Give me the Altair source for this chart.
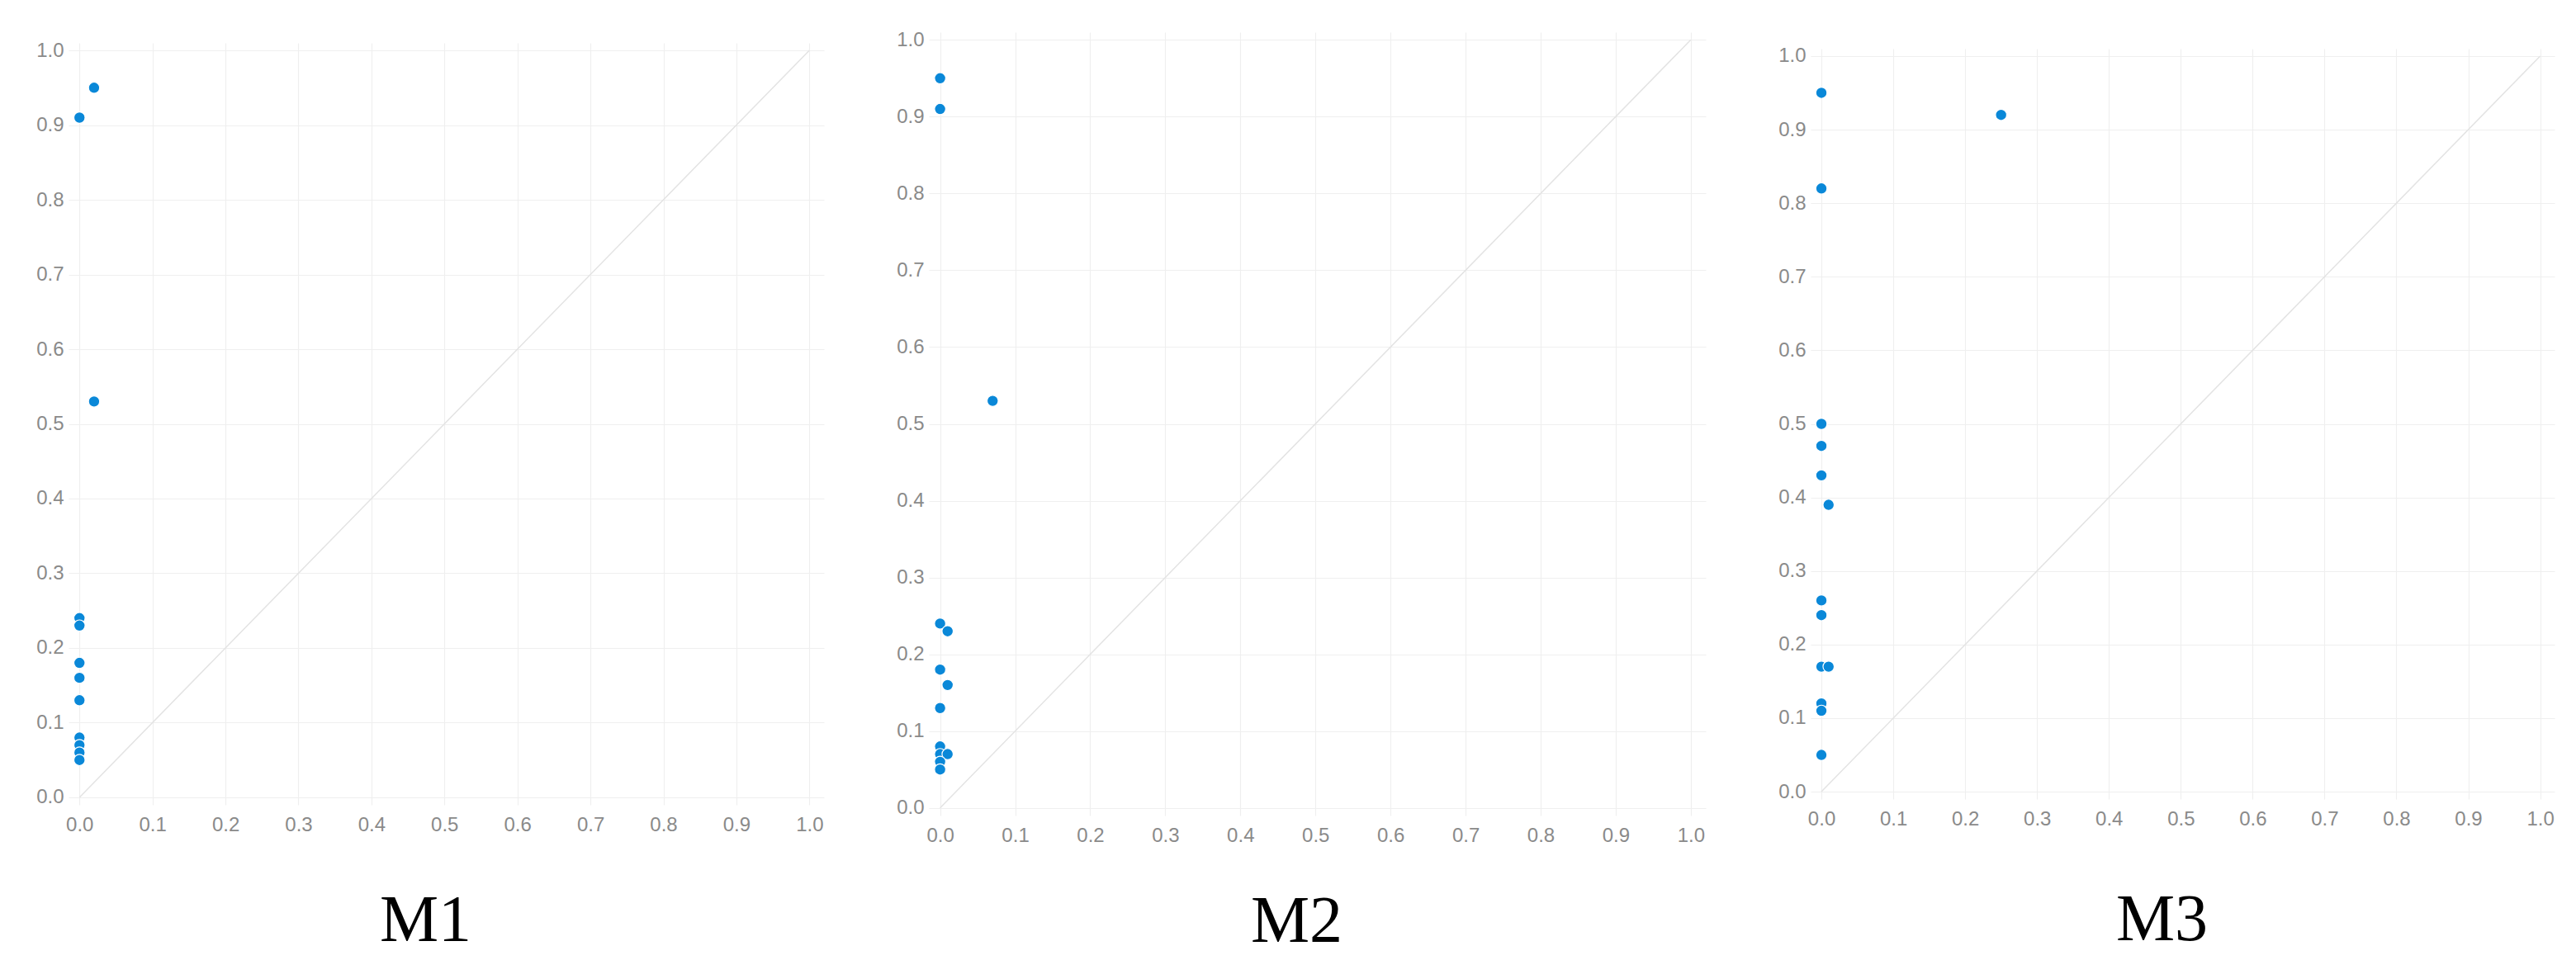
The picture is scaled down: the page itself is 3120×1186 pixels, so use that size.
import altair as alt
import pandas as pd

# ---- data ----
m1_x = [0.02, 0.0, 0.02, 0.0, 0.0, 0.0, 0.0, 0.0, 0.0, 0.0, 0.0, 0.0]
m1_y = [0.95, 0.91, 0.53, 0.24, 0.23, 0.18, 0.16, 0.13, 0.08, 0.07, 0.06, 0.05]

m2_x = [0.0, 0.0, 0.07, 0.0, 0.01, 0.0, 0.01, 0.0, 0.0, 0.0, 0.01, 0.0, 0.0]
m2_y = [0.95, 0.91, 0.53, 0.24, 0.23, 0.18, 0.16, 0.13, 0.08, 0.07, 0.07, 0.06, 0.05]

m3_x = [0.0, 0.25, 0.0, 0.0, 0.0, 0.0, 0.01, 0.0, 0.0, 0.0, 0.01, 0.0, 0.0, 0.0]
m3_y = [0.95, 0.92, 0.82, 0.50, 0.47, 0.43, 0.39, 0.26, 0.24, 0.17, 0.17, 0.12, 0.11, 0.05]

panel_names = ["M1", "M2", "M3"]
diag_x = [0.0, 1.0]
diag_y = [0.0, 1.0]
tick_values = [0.0, 0.1, 0.2, 0.3, 0.4, 0.5, 0.6, 0.7, 0.8, 0.9, 1.0]

# per-panel plot sizes (px) and title offsets
sizes = [(915, 923), (941, 949), (901, 909)]
title_offsets = [66, 54, 72]

POINT_COLOR = "#0a88d8"
LABEL_COLOR = "#8a8a8a"


def panel(xs, ys, name, w, h, toff):
    df = pd.DataFrame({"x": xs, "y": ys})
    diag = pd.DataFrame({"x": diag_x, "y": diag_y})
    xscale = alt.Scale(domain=[-0.015, 1.02], nice=False, zero=False)
    yscale = alt.Scale(domain=[-0.01, 1.01], nice=False, zero=False)
    xaxis = alt.Axis(values=tick_values, format=".1f", title=None, ticks=False,
                     domain=False, grid=True, gridColor="#efefef", gridWidth=1.2,
                     labelColor=LABEL_COLOR, labelFontSize=24, labelFont="Liberation Sans",
                     labelPadding=12, labelFlush=False)
    yaxis = alt.Axis(values=tick_values, format=".1f", title=None, ticks=False,
                     domain=False, grid=True, gridColor="#efefef", gridWidth=1.2,
                     labelColor=LABEL_COLOR, labelFontSize=24, labelFont="Liberation Sans",
                     labelPadding=6, labelFlush=False)
    line = alt.Chart(diag).mark_line(color="#e3e3e3", strokeWidth=1.5).encode(
        x=alt.X("x:Q", scale=xscale, axis=xaxis),
        y=alt.Y("y:Q", scale=yscale, axis=yaxis),
    )
    pts = alt.Chart(df).mark_circle(
        size=185, color=POINT_COLOR, opacity=1, stroke="white", strokeWidth=1.2
    ).encode(
        x=alt.X("x:Q", scale=xscale),
        y=alt.Y("y:Q", scale=yscale),
    )
    return alt.layer(line, pts).properties(
        width=w, height=h,
        view=alt.ViewBackground(stroke="transparent", strokeWidth=0),
        title=alt.TitleParams(name, orient="bottom", fontSize=80, font="Liberation Serif",
                              fontWeight="normal", color="black", offset=toff,
                              anchor="middle", dx=-25),
    )


p1 = panel(m1_x, m1_y, panel_names[0], *sizes[0], title_offsets[0])
p2 = panel(m2_x, m2_y, panel_names[1], *sizes[1], title_offsets[1])
p3 = panel(m3_x, m3_y, panel_names[2], *sizes[2], title_offsets[2])

chart = alt.hconcat(p1, p2, p3, spacing=127, center=True, bounds="flush").properties(
    padding={"left": 35, "top": 28, "right": 5, "bottom": 5},
    background="white",
).configure_view(strokeWidth=0, stroke="transparent")

chart.save("out.html", embed_options={"renderer": "svg", "actions": False})
